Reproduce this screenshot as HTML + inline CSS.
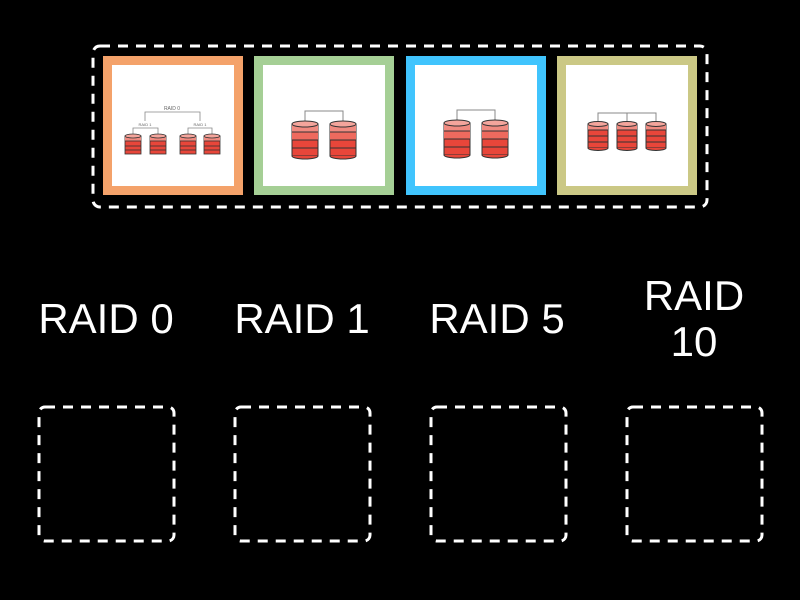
<!DOCTYPE html>
<html><head><style>html,body{margin:0;padding:0;background:#000;width:800px;height:600px;overflow:hidden}</style></head>
<body>
<svg width="800" height="600" xmlns="http://www.w3.org/2000/svg" style="display:block">
<defs>
<g id="cylL">
 <rect x="-13" y="0" width="26" height="32" fill="#e8463a" stroke="#333" stroke-width="1"/>
 <rect x="-13" y="0" width="26" height="8" fill="#f08a80"/>
 <rect x="-13" y="8" width="26" height="8" fill="#ee6a5e"/>
 <line x1="-13" y1="8" x2="13" y2="8" stroke="#333"/><line x1="-13" y1="16" x2="13" y2="16" stroke="#333"/><line x1="-13" y1="24" x2="13" y2="24" stroke="#333"/>
 <ellipse cx="0" cy="0" rx="13" ry="3" fill="#f4a59c" stroke="#333"/>
 <path d="M-13 32 A13 3 0 0 0 13 32" fill="#e8463a" stroke="#333"/>
</g>
<g id="cylS">
 <rect x="-10" y="0" width="20" height="24" fill="#e8463a" stroke="#333" stroke-width="1"/>
 <rect x="-10" y="0" width="20" height="6" fill="#f08a80"/>
 <line x1="-10" y1="6" x2="10" y2="6" stroke="#333"/><line x1="-10" y1="12" x2="10" y2="12" stroke="#333"/><line x1="-10" y1="18" x2="10" y2="18" stroke="#333"/>
 <ellipse cx="0" cy="0" rx="10" ry="2.5" fill="#f4a59c" stroke="#333"/>
 <path d="M-10 24 A10 2.5 0 0 0 10 24" fill="#e8463a" stroke="#333"/>
</g>
<g id="cylT">
 <rect x="-8" y="0" width="16" height="18" fill="#e8463a" stroke="#333" stroke-width="0.8"/>
 <rect x="-8" y="0" width="16" height="5" fill="#f08a80"/>
 <line x1="-8" y1="5" x2="8" y2="5" stroke="#333" stroke-width=".8"/><line x1="-8" y1="10" x2="8" y2="10" stroke="#333" stroke-width=".8"/><line x1="-8" y1="14" x2="8" y2="14" stroke="#333" stroke-width=".8"/>
 <ellipse cx="0" cy="0" rx="8" ry="2" fill="#f4a59c" stroke="#333" stroke-width=".8"/>
</g>
</defs>
<rect x="93" y="46" width="614" height="161" rx="7" fill="none" stroke="#fff" stroke-width="3" stroke-dasharray="10 8"/>
<!-- cards -->
<rect x="103" y="56" width="140" height="139" fill="#f4a26a"/><rect x="112" y="65" width="122" height="121" fill="#fff"/>
<rect x="254" y="56" width="140" height="139" fill="#a5cf95"/><rect x="263" y="65" width="122" height="121" fill="#fff"/>
<rect x="406" y="56" width="140" height="139" fill="#40c4fd"/><rect x="415" y="65" width="122" height="121" fill="#fff"/>
<rect x="557" y="56" width="140" height="139" fill="#cbc885"/><rect x="566" y="65" width="122" height="121" fill="#fff"/>
<!-- card1 RAID10 -->
<g stroke="#888" fill="none" stroke-width=".8">
<path d="M145 121 V112 H200 V121"/><path d="M133 136 V128 H158 V136"/><path d="M188 136 V128 H212 V136"/>
</g>
<text x="172" y="110" font-size="5" fill="#666" text-anchor="middle" font-family="Liberation Sans">RAID 0</text>
<text x="145" y="126" font-size="4" fill="#666" text-anchor="middle" font-family="Liberation Sans">RAID 1</text>
<text x="200" y="126" font-size="4" fill="#666" text-anchor="middle" font-family="Liberation Sans">RAID 1</text>
<use href="#cylT" x="133" y="136"/><use href="#cylT" x="158" y="136"/><use href="#cylT" x="188" y="136"/><use href="#cylT" x="212" y="136"/>
<!-- card2 -->
<path d="M305 122 V111 H343 V122" stroke="#888" fill="none"/>
<use href="#cylL" x="305" y="124"/><use href="#cylL" x="343" y="124"/>
<!-- card3 -->
<path d="M457 121 V110 H495 V121" stroke="#888" fill="none"/>
<use href="#cylL" x="457" y="123"/><use href="#cylL" x="495" y="123"/>
<!-- card4 -->
<path d="M598 122 V113 H656 V122 M627 113 V122" stroke="#888" fill="none"/>
<use href="#cylS" x="598" y="124"/><use href="#cylS" x="627" y="124"/><use href="#cylS" x="656" y="124"/>
<!-- labels -->
<g fill="#fff" font-family="Liberation Sans, sans-serif" font-size="42" text-anchor="middle">
<text x="106" y="333">RAID 0</text>
<text x="302" y="333">RAID 1</text>
<text x="497" y="333">RAID 5</text>
<text x="694" y="310">RAID</text>
<text x="694" y="356">10</text>
</g>
<g fill="none" stroke="#fff" stroke-width="3" stroke-dasharray="10 8">
<rect x="39" y="407" width="135" height="134" rx="6"/>
<rect x="235" y="407" width="135" height="134" rx="6"/>
<rect x="431" y="407" width="135" height="134" rx="6"/>
<rect x="627" y="407" width="135" height="134" rx="6"/>
</g>
</svg>
</body></html>
